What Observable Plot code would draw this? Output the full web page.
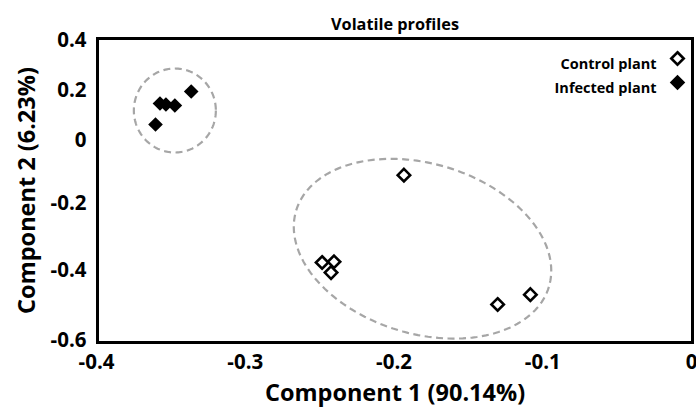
<!DOCTYPE html>
<html><head><meta charset="utf-8">
<script src="https://cdn.jsdelivr.net/npm/d3@7"></script>
<script src="https://cdn.jsdelivr.net/npm/@observablehq/plot@0.6"></script>
<style>body{margin:0;background:#fff;} #chart{width:696px;height:414px;}</style>
</head><body><div id="chart"></div>
<script>
// ---- data ----
const controlX = [-0.194, -0.249, -0.241, -0.243, -0.131, -0.109];
const controlY = [-0.110, -0.376, -0.374, -0.406, -0.497, -0.469];
const infectedX = [-0.361, -0.358, -0.354, -0.348, -0.337];
const infectedY = [0.064, 0.148, 0.144, 0.140, 0.196];
const groups = ["Control plant", "Infected plant"];
const xTicks = [-0.4, -0.3, -0.2, -0.1, 0];
const yTicks = [-0.6, -0.4, -0.2, 0, 0.2, 0.4];
const title = "Volatile profiles";
const xLabel = "Component 1 (90.14%)";
const yLabel = "Component 2 (6.23%)";
// cluster outline centres (data units)
const ellipseX = [-0.1815, -0.348];
const ellipseY = [-0.335, 0.12];

// ---- helpers ----
function ellipseSymbol(rx, ry, angleDeg) {
  const t = angleDeg * Math.PI / 180, n = 160;
  return {draw(ctx) {
    for (let i = 0; i <= n; i++) {
      const a = 2 * Math.PI * i / n;
      const ex = rx * Math.cos(a), ey = ry * Math.sin(a);
      const px = ex * Math.cos(t) - ey * Math.sin(t);
      const py = ex * Math.sin(t) + ey * Math.cos(t);
      if (i) ctx.lineTo(px, py); else ctx.moveTo(px, py);
    }
    ctx.closePath();
  }};
}
const ctrl = d3.range(controlX.length);
const inf = d3.range(infectedX.length);
const font = "'Open Sans', sans-serif";
const ellipseStyle = {fill: "none", stroke: "#A6A6A6", strokeWidth: 2.2, strokeDasharray: "7,4.5"};

const chart = Plot.plot({
  width: 696,
  height: 414,
  marginLeft: 97,
  marginRight: 4,
  marginTop: 38,
  marginBottom: 72,
  style: {fontFamily: font, fontSize: "15px", fontWeight: "bold", color: "black", background: "white"},
  x: {type: "linear", domain: [-0.4, 0], axis: null},
  y: {type: "linear", domain: yTicks, range: [340, 270, 203, 140, 90, 40], axis: null},
  marks: [
    // tick labels through the scales
    Plot.text(xTicks, {x: d => d, frameAnchor: "bottom", dy: 26, dx: -1, text: d => String(d), fontSize: 20.5, fontWeight: "bold"}),
    Plot.text(yTicks, {y: d => d, frameAnchor: "left", dx: -11, textAnchor: "end", text: d => String(d), fontSize: 20.5, fontWeight: "bold"}),
    Plot.dot([0], {x: i => ellipseX[i], y: i => ellipseY[i], symbol: ellipseSymbol(132, 85, 16.8), ...ellipseStyle}),
    Plot.dot([1], {x: i => ellipseX[i], y: i => ellipseY[i], symbol: ellipseSymbol(41, 42, 0), ...ellipseStyle}),
    Plot.dot(ctrl, {x: i => controlX[i], y: i => controlY[i], symbol: "diamond2", r: 5.6, fill: "white", stroke: "black", strokeWidth: 2.6}),
    Plot.dot(inf, {x: i => infectedX[i], y: i => infectedY[i], symbol: "diamond2", r: 6.6, fill: "black", stroke: "none"}),
    Plot.frame({stroke: "black", strokeWidth: 3}),
    // legend
    Plot.text([groups[0]], {frameAnchor: "top-right", dx: -36, dy: 20, text: d => d, textAnchor: "end", fontSize: 14.5, fontWeight: "bold"}),
    Plot.text([groups[1]], {frameAnchor: "top-right", dx: -36, dy: 44, text: d => d, textAnchor: "end", fontSize: 14.5, fontWeight: "bold"}),
    Plot.dot([groups[0]], {frameAnchor: "top-right", dx: -15, dy: 20, symbol: "diamond2", r: 5.6, fill: "white", stroke: "black", strokeWidth: 2.6}),
    Plot.dot([groups[1]], {frameAnchor: "top-right", dx: -15, dy: 44, symbol: "diamond2", r: 7, fill: "black", stroke: "none"}),
    // titles
    Plot.text([title], {frameAnchor: "top", dy: -20, text: d => d, fontSize: 16.3, fontWeight: "bold"}),
    Plot.text([xLabel], {frameAnchor: "bottom", dy: 58, text: d => d, fontSize: 23.5, fontWeight: "bold"}),
    Plot.text([yLabel], {frameAnchor: "left", dx: -70, rotate: -90, textAnchor: "middle", text: d => d, fontSize: 23.5, fontWeight: "bold"})
  ]
});
document.getElementById("chart").appendChild(chart);
</script>
</body></html>
